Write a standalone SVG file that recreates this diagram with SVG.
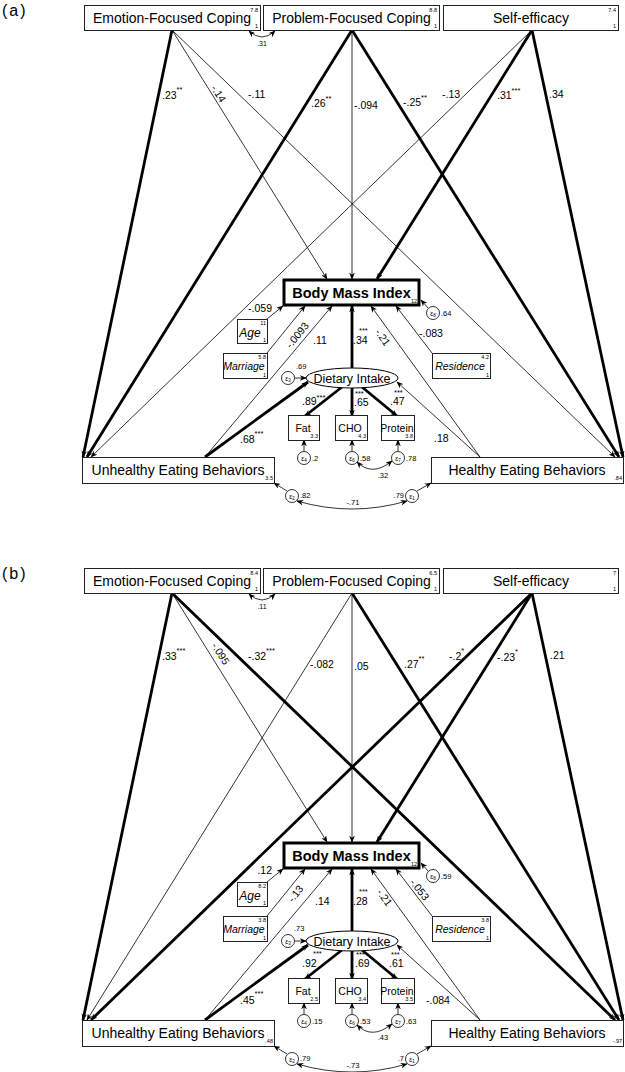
<svg xmlns="http://www.w3.org/2000/svg" width="625" height="1072" viewBox="0 0 625 1072">
<defs>
<style>
text{font-family:"Liberation Sans",Arial,sans-serif;fill:#000}
.big{font-size:14px}
.bmi{font-size:14.5px;font-weight:bold}
.di{font-size:12.5px}
.pl{font-size:10.5px}
.st{font-size:7.5px}
.sm{font-size:5.5px}
.ev{font-size:7.5px}
.it{font-style:italic}
.bx{font-size:10.5px}
.eps{font-size:7px}
.box{fill:#fff;stroke:#222;stroke-width:1}
.bbox{fill:#fff;stroke:#000;stroke-width:3}
.circ{fill:#fff;stroke:#000;stroke-width:0.8}
.thin{stroke:#000;stroke-width:0.8;fill:none;marker-end:url(#ah)}
.thick{stroke:#000;stroke-width:2.8;fill:none;marker-end:url(#ah)}
.cov{stroke:#000;stroke-width:0.8;fill:none;marker-end:url(#ah);marker-start:url(#ahs)}
.pan{font-size:16px;letter-spacing:2px}
</style>
<marker id="ah" viewBox="0 0 10 8" refX="9" refY="4" markerWidth="7" markerHeight="5.6" markerUnits="userSpaceOnUse" orient="auto"><path d="M0,0 L10,4 L0,8 L3,4 z" fill="#000"/></marker>
<marker id="ahs" viewBox="0 0 10 8" refX="9" refY="4" markerWidth="7" markerHeight="5.6" markerUnits="userSpaceOnUse" orient="auto-start-reverse"><path d="M0,0 L10,4 L0,8 L3,4 z" fill="#000"/></marker>
</defs>
<rect width="625" height="1072" fill="#fff"/>

<!-- ================= PANEL A ================= -->
<g id="panel-a">
<text class="pan" x="2" y="16">(a)</text>
<g id="a-connectors">
<line class="thick" x1="172" y1="30" x2="83" y2="457"/>
<line class="thin" x1="172" y1="30" x2="327" y2="279"/>
<line class="thin" x1="172" y1="30" x2="615" y2="457"/>
<line class="thick" x1="352" y1="30" x2="87" y2="457"/>
<line class="thin" x1="352" y1="30" x2="352" y2="279"/>
<line class="thick" x1="352" y1="30" x2="619" y2="457"/>
<line class="thin" x1="532" y1="30" x2="91" y2="457"/>
<line class="thick" x1="532" y1="30" x2="377" y2="279"/>
<line class="thick" x1="532" y1="30" x2="623" y2="457"/>
<line class="thin" x1="267" y1="319" x2="283" y2="306"/>
<line class="thin" x1="267" y1="353" x2="305" y2="306"/>
<line class="thin" x1="205" y1="457" x2="332" y2="306"/>
<line class="thick" x1="352" y1="368" x2="352" y2="306"/>
<line class="thin" x1="480" y1="457" x2="371" y2="306"/>
<line class="thin" x1="432" y1="353" x2="396" y2="306"/>
<line class="thin" x1="428" y1="308" x2="421" y2="300"/>
<line class="thick" x1="205" y1="457" x2="308" y2="382"/>
<line class="thin" x1="480" y1="457" x2="397" y2="382"/>
<line class="thin" x1="294.5" y1="378" x2="306" y2="378"/>
<line class="thick" x1="342" y1="387" x2="305" y2="416"/>
<line class="thick" x1="352" y1="388" x2="352" y2="416"/>
<line class="thick" x1="362" y1="387" x2="397" y2="416"/>
<line class="thin" x1="304" y1="451.5" x2="304" y2="440"/>
<line class="thin" x1="352" y1="451.5" x2="352" y2="440"/>
<line class="thin" x1="398" y1="451.5" x2="398" y2="440"/>
<line class="thin" x1="287" y1="491" x2="274" y2="483"/>
<line class="thin" x1="417" y1="491" x2="431" y2="483"/>
<path class="cov" d="M249,31 Q262,43 275,31"/>
<path class="cov" d="M357,462 Q372,477 392,461"/>
<path class="cov" d="M297,501 Q352,517 407,501"/>
</g>
<g id="a-path-labels">
<text class="pl" x="162" y="99">.23<tspan class="st" dy="-7">**</tspan></text>
<text class="pl" x="218" y="97" text-anchor="middle" transform="rotate(58 218 94)">-.14</text>
<text class="pl" x="248" y="98">-.11</text>
<text class="pl" x="311" y="107">.26<tspan class="st" dy="-6">**</tspan></text>
<text class="pl" x="354" y="109">-.094</text>
<text class="pl" x="403" y="106">-.25<tspan class="st" dy="-6">**</tspan></text>
<text class="pl" x="442" y="98">-.13</text>
<text class="pl" x="497" y="99">.31<tspan class="st" dy="-6">***</tspan></text>
<text class="pl" x="549" y="98">.34</text>
<text class="st" x="262" y="46" text-anchor="middle" style="font-size:7px">.31</text>
<text class="pl" x="272" y="312" text-anchor="end">-.059</text>
<text class="pl" x="297" y="339" text-anchor="middle" transform="rotate(-51 297 335)">-.0093</text>
<text class="pl" x="313" y="344">.11</text>
<text class="pl" x="353" y="344">.34</text>
<text class="st" x="359" y="333">***</text>
<text class="pl" x="383" y="341" text-anchor="middle" transform="rotate(55 383 337)">-.21</text>
<text class="pl" x="419" y="337">-.083</text>
<text class="ev" x="441" y="316">.64</text>
<text class="ev" x="296" y="369">.69</text>
<text class="pl" x="302" y="405">.89<tspan class="st" dy="-5">***</tspan></text>
<text class="pl" x="354" y="406">.65</text>
<text class="st" x="355" y="395.5">***</text>
<text class="pl" x="390" y="405">.47</text>
<text class="st" x="394" y="395">***</text>
<text class="pl" x="240" y="443">.68<tspan class="st" dy="-7">***</tspan></text>
<text class="pl" x="434" y="442">.18</text>
<text class="ev" x="312" y="461">.2</text>
<text class="ev" x="360" y="461">.58</text>
<text class="ev" x="406" y="461">.78</text>
<text class="ev" x="383" y="478" text-anchor="middle">.32</text>
<text class="ev" x="300" y="498">.82</text>
<text class="ev" x="404" y="498" text-anchor="end">.79</text>
<text class="ev" x="353" y="505" text-anchor="middle">-.71</text>
</g>
<g id="a-emotion"><rect class="box" x="84.5" y="5.5" width="176" height="25"/><text class="big" x="172" y="23" text-anchor="middle">Emotion-Focused Coping</text><text class="sm" x="258" y="12" text-anchor="end">7.8</text><text class="sm" x="258" y="28" text-anchor="end">1</text></g>
<g id="a-problem"><rect class="box" x="263.5" y="5.5" width="176" height="25"/><text class="big" x="351.5" y="23" text-anchor="middle">Problem-Focused Coping</text><text class="sm" x="437" y="12" text-anchor="end">8.8</text><text class="sm" x="437" y="28" text-anchor="end">1</text></g>
<g id="a-selfeff"><rect class="box" x="443.5" y="5.5" width="175" height="25"/><text class="big" x="531" y="23" text-anchor="middle">Self-efficacy</text><text class="sm" x="616" y="12" text-anchor="end">7.4</text><text class="sm" x="616" y="28" text-anchor="end">1</text></g>
<g id="a-bmi"><rect class="bbox" x="284" y="280" width="135" height="25"/><text class="bmi" x="351.5" y="298" text-anchor="middle">Body Mass Index</text><text class="sm" x="417" y="303" text-anchor="end">12</text></g>
<g id="a-e8"><circle class="circ" cx="433" cy="313" r="6.5"/><text class="eps" x="433" y="315.5" text-anchor="middle">ε<tspan font-size="4.5" dy="1">8</tspan></text></g>
<g id="a-age"><rect class="box" x="237.5" y="319.5" width="30" height="24"/><text class="it" x="250" y="337" text-anchor="middle" style="font-size:12px">Age</text><text class="sm" x="266" y="325" text-anchor="end">11</text><text class="sm" x="266" y="342" text-anchor="end">1</text></g>
<g id="a-marriage"><rect class="box" x="223.5" y="353.5" width="44" height="25"/><text class="bx it" x="244" y="369.5" text-anchor="middle">Marriage</text><text class="sm" x="266" y="359" text-anchor="end">5.8</text><text class="sm" x="266" y="377" text-anchor="end">1</text></g>
<g id="a-residence"><rect class="box" x="432.5" y="353.5" width="58" height="25"/><text class="bx it" x="460" y="369.5" text-anchor="middle">Residence</text><text class="sm" x="489" y="359" text-anchor="end">4.2</text><text class="sm" x="489" y="377" text-anchor="end">1</text></g>
<g id="a-dietary"><ellipse cx="352" cy="378" rx="46" ry="10" fill="#fff" stroke="#000" stroke-width="1"/><text class="di" x="352" y="382.5" text-anchor="middle">Dietary Intake</text></g>
<g id="a-e3"><circle class="circ" cx="288" cy="378" r="6.5"/><text class="eps" x="288" y="380.5" text-anchor="middle">ε<tspan font-size="4.5" dy="1">3</tspan></text></g>
<g id="a-fat"><rect class="box" x="288.5" y="415.5" width="31" height="25"/><text class="bx" x="303" y="432" text-anchor="middle">Fat</text><text class="sm" x="318" y="438" text-anchor="end">3.3</text></g>
<g id="a-cho"><rect class="box" x="335.5" y="415.5" width="32" height="25"/><text class="bx" x="350" y="432" text-anchor="middle">CHO</text><text class="sm" x="366" y="438" text-anchor="end">4.3</text></g>
<g id="a-protein"><rect class="box" x="381.5" y="415.5" width="33" height="25"/><text class="bx" x="397" y="432" text-anchor="middle">Protein</text><text class="sm" x="413" y="438" text-anchor="end">3.8</text></g>
<g id="a-e4"><circle class="circ" cx="304" cy="458" r="6.5"/><text class="eps" x="304" y="460.5" text-anchor="middle">ε<tspan font-size="4.5" dy="1">4</tspan></text></g>
<g id="a-e6"><circle class="circ" cx="352" cy="458" r="6.5"/><text class="eps" x="352" y="460.5" text-anchor="middle">ε<tspan font-size="4.5" dy="1">6</tspan></text></g>
<g id="a-e7"><circle class="circ" cx="398" cy="458" r="6.5"/><text class="eps" x="398" y="460.5" text-anchor="middle">ε<tspan font-size="4.5" dy="1">7</tspan></text></g>
<g id="a-unhealthy"><rect class="box" x="82.5" y="457.5" width="192" height="26"/><text class="big" x="178" y="475" text-anchor="middle">Unhealthy Eating Behaviors</text><text class="sm" x="273" y="480" text-anchor="end">3.5</text></g>
<g id="a-healthy"><rect class="box" x="431.5" y="457.5" width="192" height="26"/><text class="big" x="527" y="475" text-anchor="middle">Healthy Eating Behaviors</text><text class="sm" x="622" y="480" text-anchor="end">.84</text></g>
<g id="a-e2"><circle class="circ" cx="292" cy="496" r="6.5"/><text class="eps" x="292" y="498.5" text-anchor="middle">ε<tspan font-size="4.5" dy="1">2</tspan></text></g>
<g id="a-e1"><circle class="circ" cx="412" cy="496" r="6.5"/><text class="eps" x="412" y="498.5" text-anchor="middle">ε<tspan font-size="4.5" dy="1">1</tspan></text></g>
</g>

<!-- ================= PANEL B ================= -->
<g id="panel-b" transform="translate(0,563)">
<text class="pan" x="2" y="16">(b)</text>
<g id="b-connectors">
<line class="thick" x1="172" y1="30" x2="83" y2="457"/>
<line class="thin" x1="172" y1="30" x2="327" y2="279"/>
<line class="thick" x1="172" y1="30" x2="615" y2="457"/>
<line class="thin" x1="352" y1="30" x2="87" y2="457"/>
<line class="thin" x1="352" y1="30" x2="352" y2="279"/>
<line class="thick" x1="352" y1="30" x2="619" y2="457"/>
<line class="thick" x1="532" y1="30" x2="91" y2="457"/>
<line class="thick" x1="532" y1="30" x2="377" y2="279"/>
<line class="thick" x1="532" y1="30" x2="623" y2="457"/>
<line class="thin" x1="267" y1="319" x2="283" y2="306"/>
<line class="thin" x1="267" y1="353" x2="305" y2="306"/>
<line class="thin" x1="205" y1="457" x2="332" y2="306"/>
<line class="thick" x1="352" y1="368" x2="352" y2="306"/>
<line class="thin" x1="480" y1="457" x2="371" y2="306"/>
<line class="thin" x1="432" y1="353" x2="396" y2="306"/>
<line class="thin" x1="428" y1="308" x2="421" y2="300"/>
<line class="thick" x1="205" y1="457" x2="308" y2="382"/>
<line class="thin" x1="480" y1="457" x2="397" y2="382"/>
<line class="thin" x1="294.5" y1="378" x2="306" y2="378"/>
<line class="thick" x1="342" y1="387" x2="305" y2="416"/>
<line class="thick" x1="352" y1="388" x2="352" y2="416"/>
<line class="thick" x1="362" y1="387" x2="397" y2="416"/>
<line class="thin" x1="304" y1="451.5" x2="304" y2="440"/>
<line class="thin" x1="352" y1="451.5" x2="352" y2="440"/>
<line class="thin" x1="398" y1="451.5" x2="398" y2="440"/>
<line class="thin" x1="287" y1="491" x2="274" y2="483"/>
<line class="thin" x1="417" y1="491" x2="431" y2="483"/>
<path class="cov" d="M249,31 Q262,43 275,31"/>
<path class="cov" d="M357,462 Q372,477 392,461"/>
<path class="cov" d="M297,501 Q352,517 407,501"/>
</g>
<g id="b-path-labels">
<text class="pl" x="162" y="97">.33<tspan class="st" dy="-7">***</tspan></text>
<text class="pl" x="220" y="94" text-anchor="middle" transform="rotate(58 220 91)">-.095</text>
<text class="pl" x="248" y="97">-.32<tspan class="st" dy="-7">***</tspan></text>
<text class="pl" x="310" y="105">-.082</text>
<text class="pl" x="354" y="107">.05</text>
<text class="pl" x="404" y="105">.27<tspan class="st" dy="-7">**</tspan></text>
<text class="pl" x="449" y="97">-.2<tspan class="st" dy="-7">*</tspan></text>
<text class="pl" x="497" y="98">-.23<tspan class="st" dy="-7">*</tspan></text>
<text class="pl" x="550" y="96">.21</text>
<text class="st" x="262" y="46" text-anchor="middle" style="font-size:7px">.11</text>
<text class="pl" x="272" y="311" text-anchor="end">.12</text>
<text class="pl" x="296" y="334" text-anchor="middle" transform="rotate(-51 296 331)">-.13</text>
<text class="pl" x="315" y="342">.14</text>
<text class="pl" x="353" y="342">.28</text>
<text class="st" x="359" y="331">***</text>
<text class="pl" x="384" y="338" text-anchor="middle" transform="rotate(55 384 335)">-.21</text>
<text class="pl" x="419" y="330" text-anchor="middle" transform="rotate(52 419 327)">-.053</text>
<text class="ev" x="441" y="316">.59</text>
<text class="ev" x="294" y="368">.73</text>
<text class="pl" x="302" y="404">.92</text>
<text class="st" x="313" y="393">***</text>
<text class="pl" x="355" y="404">.69</text>
<text class="st" x="356" y="393.5">***</text>
<text class="pl" x="389" y="404">.61</text>
<text class="st" x="391" y="393.5">***</text>
<text class="pl" x="240" y="441">.45<tspan class="st" dy="-8">***</tspan></text>
<text class="pl" x="426" y="441">-.084</text>
<text class="ev" x="312" y="461">.15</text>
<text class="ev" x="360" y="461">.53</text>
<text class="ev" x="406" y="461">.63</text>
<text class="ev" x="383" y="477" text-anchor="middle">.43</text>
<text class="ev" x="300" y="498">.79</text>
<text class="ev" x="404" y="498" text-anchor="end">.7</text>
<text class="ev" x="353" y="505" text-anchor="middle">-.73</text>
</g>
<g id="b-emotion"><rect class="box" x="84.5" y="5.5" width="176" height="25"/><text class="big" x="172" y="23" text-anchor="middle">Emotion-Focused Coping</text><text class="sm" x="258" y="12" text-anchor="end">8.4</text><text class="sm" x="258" y="28" text-anchor="end">1</text></g>
<g id="b-problem"><rect class="box" x="263.5" y="5.5" width="176" height="25"/><text class="big" x="351.5" y="23" text-anchor="middle">Problem-Focused Coping</text><text class="sm" x="437" y="12" text-anchor="end">6.5</text><text class="sm" x="437" y="28" text-anchor="end">1</text></g>
<g id="b-selfeff"><rect class="box" x="443.5" y="5.5" width="175" height="25"/><text class="big" x="531" y="23" text-anchor="middle">Self-efficacy</text><text class="sm" x="616" y="12" text-anchor="end">7</text><text class="sm" x="616" y="28" text-anchor="end">1</text></g>
<g id="b-bmi"><rect class="bbox" x="284" y="280" width="135" height="25"/><text class="bmi" x="351.5" y="298" text-anchor="middle">Body Mass Index</text><text class="sm" x="417" y="303" text-anchor="end">12</text></g>
<g id="b-e8"><circle class="circ" cx="433" cy="313" r="6.5"/><text class="eps" x="433" y="315.5" text-anchor="middle">ε<tspan font-size="4.5" dy="1">8</tspan></text></g>
<g id="b-age"><rect class="box" x="237.5" y="319.5" width="30" height="24"/><text class="it" x="250" y="337" text-anchor="middle" style="font-size:12px">Age</text><text class="sm" x="266" y="325" text-anchor="end">8.2</text><text class="sm" x="266" y="342" text-anchor="end">1</text></g>
<g id="b-marriage"><rect class="box" x="223.5" y="353.5" width="44" height="25"/><text class="bx it" x="244" y="369.5" text-anchor="middle">Marriage</text><text class="sm" x="266" y="359" text-anchor="end">3.8</text><text class="sm" x="266" y="377" text-anchor="end">1</text></g>
<g id="b-residence"><rect class="box" x="432.5" y="353.5" width="58" height="25"/><text class="bx it" x="460" y="369.5" text-anchor="middle">Residence</text><text class="sm" x="489" y="359" text-anchor="end">3.8</text><text class="sm" x="489" y="377" text-anchor="end">1</text></g>
<g id="b-dietary"><ellipse cx="352" cy="378" rx="46" ry="10" fill="#fff" stroke="#000" stroke-width="1"/><text class="di" x="352" y="382.5" text-anchor="middle">Dietary Intake</text></g>
<g id="b-e3"><circle class="circ" cx="288" cy="378" r="6.5"/><text class="eps" x="288" y="380.5" text-anchor="middle">ε<tspan font-size="4.5" dy="1">3</tspan></text></g>
<g id="b-fat"><rect class="box" x="288.5" y="415.5" width="31" height="25"/><text class="bx" x="303" y="432" text-anchor="middle">Fat</text><text class="sm" x="318" y="438" text-anchor="end">2.5</text></g>
<g id="b-cho"><rect class="box" x="335.5" y="415.5" width="32" height="25"/><text class="bx" x="350" y="432" text-anchor="middle">CHO</text><text class="sm" x="366" y="438" text-anchor="end">3.4</text></g>
<g id="b-protein"><rect class="box" x="381.5" y="415.5" width="33" height="25"/><text class="bx" x="397" y="432" text-anchor="middle">Protein</text><text class="sm" x="413" y="438" text-anchor="end">3.5</text></g>
<g id="b-e4"><circle class="circ" cx="304" cy="458" r="6.5"/><text class="eps" x="304" y="460.5" text-anchor="middle">ε<tspan font-size="4.5" dy="1">4</tspan></text></g>
<g id="b-e6"><circle class="circ" cx="352" cy="458" r="6.5"/><text class="eps" x="352" y="460.5" text-anchor="middle">ε<tspan font-size="4.5" dy="1">6</tspan></text></g>
<g id="b-e7"><circle class="circ" cx="398" cy="458" r="6.5"/><text class="eps" x="398" y="460.5" text-anchor="middle">ε<tspan font-size="4.5" dy="1">7</tspan></text></g>
<g id="b-unhealthy"><rect class="box" x="82.5" y="457.5" width="192" height="26"/><text class="big" x="178" y="475" text-anchor="middle">Unhealthy Eating Behaviors</text><text class="sm" x="273" y="480" text-anchor="end">.48</text></g>
<g id="b-healthy"><rect class="box" x="431.5" y="457.5" width="192" height="26"/><text class="big" x="527" y="475" text-anchor="middle">Healthy Eating Behaviors</text><text class="sm" x="622" y="480" text-anchor="end">-.97</text></g>
<g id="b-e2"><circle class="circ" cx="292" cy="496" r="6.5"/><text class="eps" x="292" y="498.5" text-anchor="middle">ε<tspan font-size="4.5" dy="1">2</tspan></text></g>
<g id="b-e1"><circle class="circ" cx="412" cy="496" r="6.5"/><text class="eps" x="412" y="498.5" text-anchor="middle">ε<tspan font-size="4.5" dy="1">1</tspan></text></g>
</g>
</svg>
